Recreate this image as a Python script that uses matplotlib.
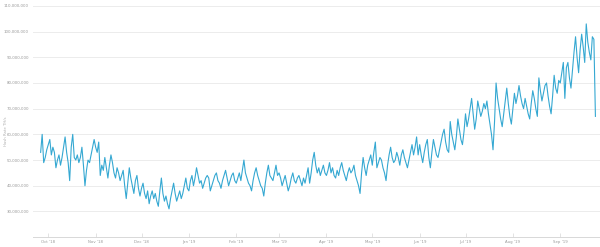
import pandas as pd
import matplotlib
matplotlib.use('Agg')
import matplotlib.pyplot as plt
import matplotlib.dates as mdates
from matplotlib.ticker import FuncFormatter

# daily hash rate, millions of TH/s
sep_18 = [53, 60, 49, 51, 54]
oct_18 = [56, 58, 52, 55, 53, 47, 50, 52, 48, 51, 55, 59, 53, 49, 42, 55,
          60, 51, 50, 52, 49, 51, 55, 48, 40, 46, 50, 49, 52, 55, 58]
nov_18 = [55, 53, 57, 44, 48, 46, 51, 47, 43, 48, 52, 49, 45, 43, 47, 45,
          42, 44, 46, 40, 35, 41, 47, 43, 40, 37, 42, 44, 39, 36]
dec_18 = [39, 41, 37, 35, 38, 33, 36, 38, 35, 37, 34, 32, 38, 43, 37, 34,
          36, 33, 31, 35, 38, 41, 37, 34, 36, 38, 35, 37, 40, 43, 39]
jan_19 = [38, 42, 44, 40, 43, 47, 44, 41, 42, 39, 41, 43, 44, 43, 38, 40,
          42, 44, 45, 42, 41, 39, 42, 44, 46, 43, 40, 42, 44, 45, 42]
feb_19 = [41, 43, 45, 42, 46, 50, 45, 43, 41, 40, 38, 42, 45, 47, 44, 42,
          40, 39, 36, 41, 45, 48, 44, 43, 42, 45, 48, 44]
mar_19 = [45, 43, 40, 42, 44, 41, 38, 40, 43, 45, 42, 41, 43, 44, 42, 40,
          43, 41, 44, 47, 41, 45, 50, 53, 48, 45, 47, 44, 46, 48, 45]
apr_19 = [44, 46, 49, 45, 47, 44, 43, 46, 44, 47, 49, 46, 44, 42, 45, 47,
          45, 46, 48, 44, 42, 40, 37, 45, 51, 47, 44, 48, 50, 52]
may_19 = [48, 53, 57, 47, 49, 51, 50, 47, 45, 42, 48, 52, 55, 51, 49, 50,
          53, 51, 48, 52, 54, 51, 49, 47, 50, 53, 56, 52, 55, 59, 52]
jun_19 = [56, 52, 49, 53, 56, 58, 51, 47, 53, 58, 55, 52, 51, 54, 57, 60,
          62, 57, 54, 53, 65, 60, 57, 54, 59, 66, 62, 58, 56, 61]
jul_19 = [68, 63, 66, 70, 74, 68, 62, 66, 73, 70, 67, 69, 72, 70, 73, 68,
          64, 60, 54, 65, 80, 74, 70, 66, 63, 68, 73, 78, 72, 67, 64]
aug_19 = [70, 76, 72, 75, 79, 75, 72, 70, 74, 71, 68, 66, 72, 77, 74, 70,
          67, 82, 77, 73, 76, 79, 80, 75, 71, 68, 75, 83, 78, 76, 81]
sep_19 = [80, 84, 88, 74, 86, 88, 82, 78, 85, 92, 98, 90, 84, 93, 99, 94,
          88, 103, 96, 92, 89, 98, 97, 67]

month_labels = ["Oct '18", "Nov '18", "Dec '18", "Jan '19", "Feb '19", "Mar '19",
                "Apr '19", "May '19", "Jun '19", "Jul '19", "Aug '19", "Sep '19"]

values = (sep_18 + oct_18 + nov_18 + dec_18 + jan_19 + feb_19 + mar_19 +
          apr_19 + may_19 + jun_19 + jul_19 + aug_19 + sep_19)
dates = pd.date_range('2018-09-26', periods=len(values), freq='D')
hash_rate = pd.Series([v * 1e6 for v in values], index=dates)

fig = plt.figure(figsize=(6.0, 2.47), dpi=100)
ax = fig.add_axes([0.055, 0.04, 0.945, 0.936])

ax.plot(hash_rate.index, hash_rate.values, color='#35a8d2', linewidth=0.8)

ax.set_ylim(20e6, 110e6)
ax.set_yticks([30e6, 40e6, 50e6, 60e6, 70e6, 80e6, 90e6, 100e6, 110e6])
ax.yaxis.set_major_formatter(FuncFormatter(lambda v, p: '{:,.0f}'.format(v)))
ax.grid(axis='y', color='#ececec', linewidth=0.7)
ax.set_axisbelow(True)

ax.set_xlim(pd.Timestamp('2018-09-21'), pd.Timestamp('2019-09-27'))
month_ticks = pd.date_range('2018-10-01', periods=len(month_labels), freq='MS')
ax.set_xticks(month_ticks)
ax.set_xticklabels(month_labels)

for side in ['top', 'right', 'left']:
    ax.spines[side].set_visible(False)
ax.spines['bottom'].set_color('#d8d8d8')
ax.spines['bottom'].set_linewidth(0.7)

ax.tick_params(axis='y', length=0, labelsize=2.8, labelcolor='#9a9a9a', pad=3)
ax.tick_params(axis='x', direction='in', length=3, width=0.5, color='#d8d8d8',
               labelsize=2.8, labelcolor='#9a9a9a', pad=2)

fig.text(0.006, 0.47, 'Hash Rate TH/s', rotation=90, fontsize=2.8,
         color='#b0b0b0', ha='left', va='center')

fig.savefig('out.png', dpi=100, facecolor='white')
